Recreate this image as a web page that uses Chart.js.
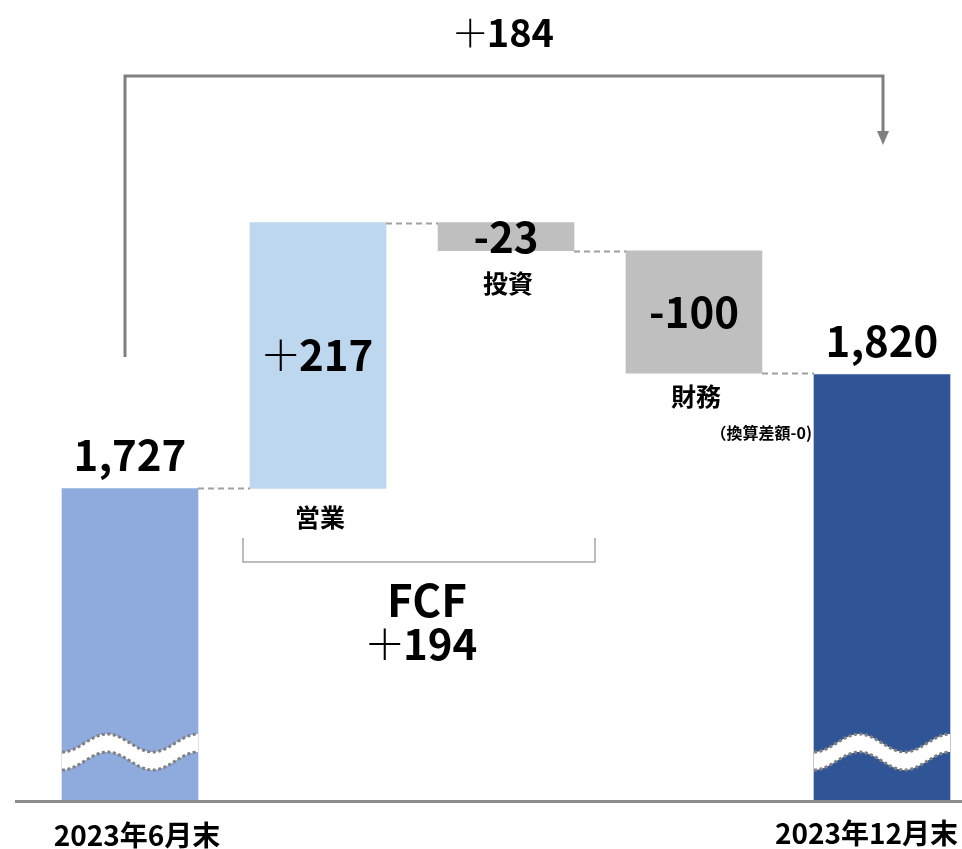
<!DOCTYPE html>
<html lang="ja">
<head>
<meta charset="utf-8">
<title>キャッシュ残高の推移</title>
<script src="https://cdn.jsdelivr.net/npm/chart.js@4/dist/chart.umd.min.js"></script>
<style>
  html, body { margin: 0; padding: 0; background: #ffffff; }
  #wrap { width: 962px; height: 849px; position: relative; }
  canvas { display: block; }
</style>
</head>
<body>
<div id="wrap"><canvas id="chart" width="962" height="849"></canvas></div>
<script>
// Period labels and flow names
const categories = ['2023年6月末', '営業', '投資', '財務', '2023年12月末'];
// Balances (億円)
const openingBalance = 1727;
const closingBalance = 1820;
// Cash flows: 営業, 投資, 財務
const flowValues = [217, -23, -100];
// Printed values on each bar
const valueLabels = ['1,727', '＋217', '-23', '-100', '1,820'];
// Summary figures
const freeCashFlow = 194;
const netChange = 184;
const fxNote = '（換算差額-0)';

const FONT = '"Noto Sans CJK JP", "Noto Sans", sans-serif';
const barColors = ['#8FAADC', '#BDD7EE', '#BFBFBF', '#BFBFBF', '#2F5597'];

// Floating ranges for the flow bars, plain values for the balances
const barData = [openingBalance];
let running = openingBalance;
flowValues.forEach(v => {
  const next = running + v;
  barData.push([Math.min(running, next), Math.max(running, next)]);
  running = next;
});
barData.push(closingBalance);

// Level each connector sits on (end of each step)
const connectorLevels = [openingBalance];
running = openingBalance;
flowValues.forEach(v => { running += v; connectorLevels.push(running); });

function signed(n) { return (n >= 0 ? '＋' : '-') + Math.abs(n).toLocaleString('en-US'); }

// Centered text where a leading full-width plus is drawn in a light weight
function drawValue(ctx, text, x, y, size) {
  const bold = 'bold ' + size + 'px ' + FONT;
  if (text.charAt(0) !== '＋') {
    ctx.font = bold;
    ctx.textAlign = 'center';
    ctx.fillText(text, x, y);
    return;
  }
  const light = '300 ' + size + 'px ' + FONT;
  const rest = text.slice(1);
  ctx.font = light;
  const wp = ctx.measureText('＋').width * 0.86;
  ctx.font = bold;
  const wr = ctx.measureText(rest).width;
  const left = x - (wp + wr) / 2;
  ctx.textAlign = 'left';
  ctx.font = light;
  ctx.fillText('＋', left - ctx.measureText('＋').width * 0.07, y);
  ctx.font = bold;
  ctx.fillText(rest, left + wp, y);
  ctx.textAlign = 'center';
}

const annotations = {
  id: 'annotations',
  afterDatasetsDraw(chart) {
    const ctx = chart.ctx;
    const bars = chart.getDatasetMeta(0).data;
    const yScale = chart.scales.y;
    const area = chart.chartArea;
    const W = chart.width;

    const edges = bars.map(b => {
      const p = b.getProps(['x', 'y', 'base', 'width'], true);
      return { x: p.x, left: p.x - p.width / 2, right: p.x + p.width / 2,
               top: Math.min(p.y, p.base), bottom: Math.min(Math.max(p.y, p.base), area.bottom),
               width: p.width };
    });

    ctx.save();

    // dashed connectors between neighbouring bars
    ctx.strokeStyle = '#A0A0A0';
    ctx.lineWidth = 2;
    ctx.setLineDash([6, 4]);
    for (let i = 0; i < edges.length - 1; i++) {
      const y = Math.round(yScale.getPixelForValue(connectorLevels[i])) + 0.5;
      ctx.beginPath();
      ctx.moveTo(edges[i].right, y);
      ctx.lineTo(edges[i + 1].left, y);
      ctx.stroke();
    }
    ctx.setLineDash([]);

    // wavy axis-break bands on the balance bars
    const drawBreak = (e) => {
      const period = e.width / 1.5, amp = 9, thick = 18;
      const mid = area.bottom - 58;
      const topY = x => mid + amp * Math.cos(2 * Math.PI * (x - e.left) / period);
      const steps = 60;
      ctx.beginPath();
      for (let s = 0; s <= steps; s++) {
        const x = e.left + (e.width * s) / steps;
        if (s === 0) ctx.moveTo(x, topY(x)); else ctx.lineTo(x, topY(x));
      }
      for (let s = steps; s >= 0; s--) {
        const x = e.left + (e.width * s) / steps;
        ctx.lineTo(x, topY(x) + thick);
      }
      ctx.closePath();
      ctx.fillStyle = '#FFFFFF';
      ctx.fill();
      ctx.strokeStyle = '#808080';
      ctx.lineWidth = 3;
      ctx.setLineDash([3, 2.5]);
      [0, thick].forEach(off => {
        ctx.beginPath();
        for (let s = 0; s <= steps; s++) {
          const x = e.left + (e.width * s) / steps;
          if (s === 0) ctx.moveTo(x, topY(x) + off); else ctx.lineTo(x, topY(x) + off);
        }
        ctx.stroke();
      });
      ctx.setLineDash([]);
    };
    drawBreak(edges[0]);
    drawBreak(edges[edges.length - 1]);

    // baseline
    ctx.strokeStyle = '#8C8C8C';
    ctx.lineWidth = 3;
    ctx.beginPath();
    ctx.moveTo(15, area.bottom + 0.5);
    ctx.lineTo(W, area.bottom + 0.5);
    ctx.stroke();

    ctx.fillStyle = '#000000';
    ctx.textAlign = 'center';
    ctx.textBaseline = 'middle';

    // values: balances above, flows inside
    edges.forEach((e, i) => {
      const isTotal = i === 0 || i === edges.length - 1;
      const y = isTotal ? e.top - 33 : (e.top + e.bottom) / 2;
      drawValue(ctx, valueLabels[i], e.x, y, 42);
    });

    // flow names under their bars
    ctx.font = 'bold 25px ' + FONT;
    ctx.fillText(categories[1], edges[1].x + 2, edges[1].bottom + 29);
    ctx.fillText(categories[2], edges[2].x + 2, edges[2].bottom + 33);
    ctx.fillText(categories[3], edges[3].x + 2, edges[3].bottom + 23);
    ctx.font = 'bold 16px ' + FONT;
    ctx.textAlign = 'right';
    ctx.fillText(fxNote, edges[edges.length - 1].left - 2, edges[3].bottom + 60);
    ctx.textAlign = 'center';

    // period labels under the axis
    ctx.font = 'bold 28px ' + FONT;
    ctx.fillText(categories[0], edges[0].x + 7, area.bottom + 34);
    ctx.textAlign = 'right';
    ctx.fillText(categories[categories.length - 1], W - 4, area.bottom + 32);
    ctx.textAlign = 'center';

    // FCF bracket under 営業 and 投資
    const fl = edges[1].left - 7, fr = edges[2].right + 21;
    const fTop = 538, fBot = 562;
    ctx.strokeStyle = '#A6A6A6';
    ctx.lineWidth = 1.5;
    ctx.beginPath();
    ctx.moveTo(fl, fTop); ctx.lineTo(fl, fBot); ctx.lineTo(fr, fBot); ctx.lineTo(fr, fTop);
    ctx.stroke();
    const fcx = (fl + fr) / 2 + 8;
    ctx.font = 'bold 44px ' + FONT;
    ctx.fillText('FCF', fcx, 600);
    drawValue(ctx, signed(freeCashFlow), fcx - 5, 644, 42);

    // overall change arrow from opening to closing balance
    const ax0 = edges[0].x - 5, ax1 = edges[edges.length - 1].x + 1;
    const aTop = 76, aStart = 357, aTip = 145;
    ctx.strokeStyle = '#808080';
    ctx.lineWidth = 3;
    ctx.beginPath();
    ctx.moveTo(ax0, aStart); ctx.lineTo(ax0, aTop); ctx.lineTo(ax1, aTop); ctx.lineTo(ax1, aTip - 12);
    ctx.stroke();
    ctx.fillStyle = '#808080';
    ctx.beginPath();
    ctx.moveTo(ax1 - 6, aTip - 14); ctx.lineTo(ax1 + 6, aTip - 14); ctx.lineTo(ax1, aTip);
    ctx.closePath();
    ctx.fill();
    ctx.fillStyle = '#000000';
    drawValue(ctx, signed(netChange), (ax0 + ax1) / 2, 33, 38);

    ctx.restore();
  }
};

new Chart(document.getElementById('chart'), {
  type: 'bar',
  data: {
    labels: categories,
    datasets: [{
      data: barData,
      backgroundColor: barColors,
      borderWidth: 0,
      barThickness: 136,
      // keep bars inside the plot vertically, let them spill sideways
      clip: { left: false, right: false, top: 0, bottom: 0 }
    }]
  },
  options: {
    responsive: false,
    animation: false,
    devicePixelRatio: 1,
    layout: { padding: { left: 130, right: 80, top: 100, bottom: 48 } },
    plugins: { legend: { display: false }, tooltip: { enabled: false } },
    scales: {
      x: { display: false, offset: false },
      y: { display: false, min: 1472, max: 2044 }
    }
  },
  plugins: [annotations]
});
</script>
</body>
</html>
